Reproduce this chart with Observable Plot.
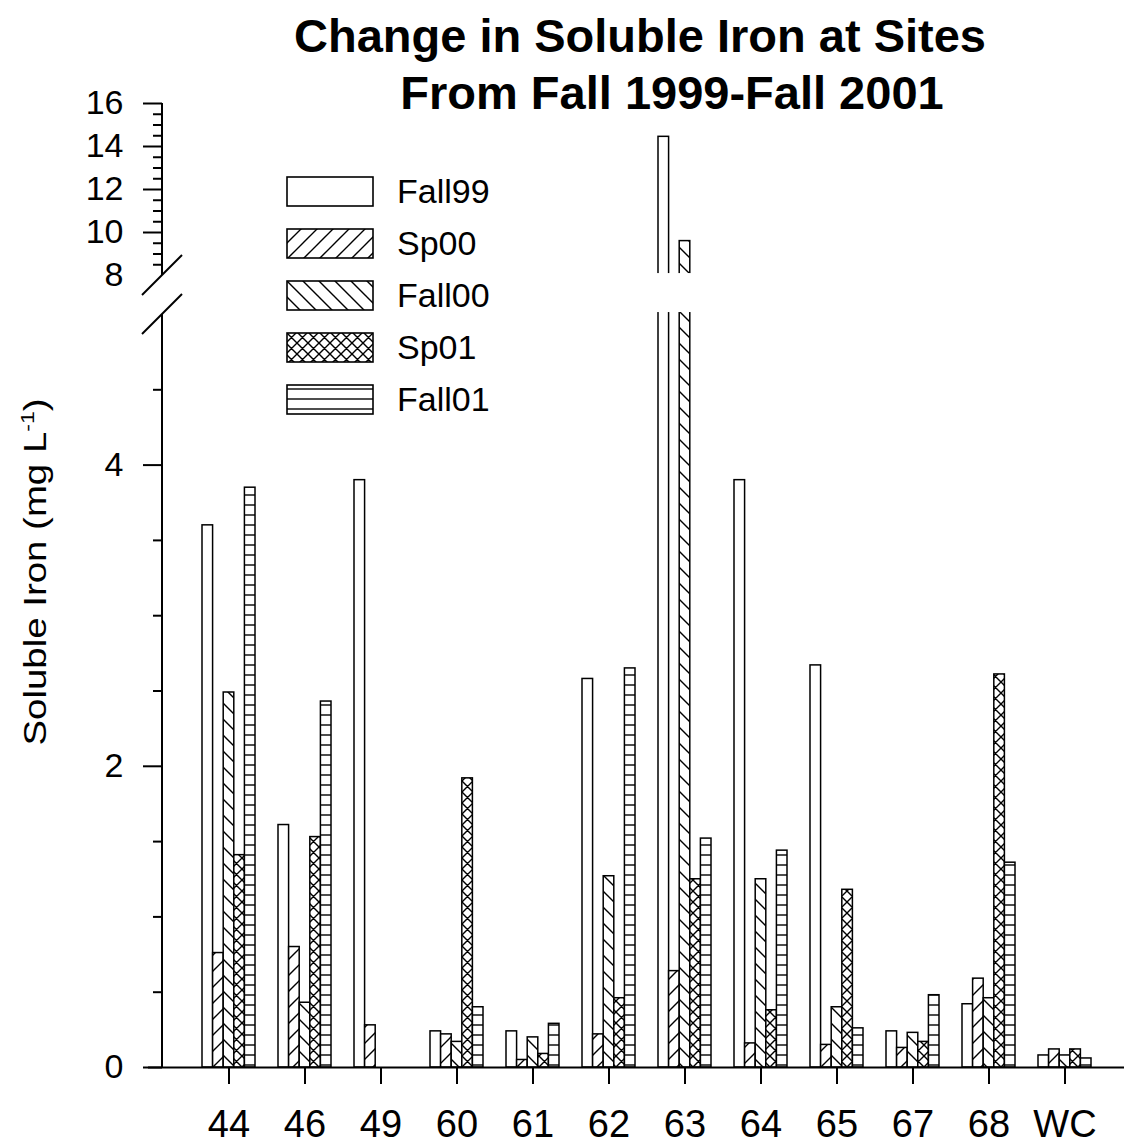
<!DOCTYPE html>
<html>
<head>
<meta charset="utf-8">
<script src="https://cdn.jsdelivr.net/npm/d3@7"></script>
<script src="https://cdn.jsdelivr.net/npm/@observablehq/plot@0.6"></script>
<style>
  body { margin: 0; background: #fff; font-family: "Liberation Sans", Arial, sans-serif; color: #000; }
  #wrap { position: relative; width: 1124px; height: 1147px; overflow: hidden; }
  .title { position: absolute; font-weight: bold; font-size: 47px; line-height: 47px; white-space: nowrap; transform: translateX(-50%); }
  #t1 { left: 640px; top: 12px; }
  #t2 { left: 672px; top: 69px; }
  #ylab { position: absolute; left: 35px; top: 572px; white-space: nowrap; font-size: 32px; line-height: 36px;
          transform: translate(-50%, -50%) rotate(-90deg) scaleX(1.2); }
  #ylab sup { font-size: 0.6em; line-height: 0; }
  #legend { position: absolute; left: 286px; top: 177px; }
  .lrow { display: flex; align-items: center; height: 29px; margin-bottom: 23px; }
  .lrow span { margin-left: 23px; font-size: 34px; line-height: 29px; }
</style>
</head>
<body>
<div id="wrap">
  <div class="title" id="t1">Change in Soluble Iron at Sites</div>
  <div class="title" id="t2">From Fall 1999-Fall 2001</div>
  <div id="ylab">Soluble Iron (mg L<sup>-1</sup>)</div>
  <div id="legend"></div>
</div>
<script>
// ---------------- data ----------------
const sites = ["44", "46", "49", "60", "61", "62", "63", "64", "65", "67", "68", "WC"];
const seriesNames = ["Fall99", "Sp00", "Fall00", "Sp01", "Fall01"];
const fall99 = [3.60, 1.61, 3.90, 0.24, 0.24, 2.58, 14.45, 3.90, 2.67, 0.24, 0.42, 0.08];
const sp00   = [0.76, 0.80, 0.28, 0.22, 0.05, 0.22, 0.64, 0.16, 0.15, 0.13, 0.59, 0.12];
const fall00 = [2.49, 0.43, null, 0.17, 0.20, 1.27, 9.60, 1.25, 0.40, 0.23, 0.46, 0.08];
const sp01   = [1.41, 1.53, null, 1.92, 0.09, 0.46, 1.25, 0.38, 1.18, 0.17, 2.61, 0.12];
const fall01 = [3.85, 2.43, null, 0.40, 0.29, 2.65, 1.52, 1.44, 0.26, 0.48, 1.36, 0.06];
const seriesValues = [fall99, sp00, fall00, sp01, fall01];

const majorTicks = [0, 2, 4, 10, 12, 14, 16];
const breakTickLabel = [8];
const minorTicks = [0.5, 1, 1.5, 2.5, 3, 3.5, 4.5,
                    8.5, 9, 9.5, 10.5, 11, 11.5, 12.5, 13, 13.5, 14.5, 15, 15.5];
// axis break: lower segment 0-5, upper segment 8-16
const lowerTop = 5, upperBottom = 8;

// ---------------- patterns ----------------
const wrap = d3.select("#wrap");
const defsSvg = wrap.insert("svg", ":first-child").attr("width", 0).attr("height", 0)
  .style("position", "absolute").style("left", 0).style("top", 0);
const defs = defsSvg.append("defs");
const patternPaths = {
  Fall99: null,
  Sp00: { w: 16, h: 16, d: "M-4,4L4,-4M0,16L16,0M12,20L20,12" },
  Fall00: { w: 16, h: 16, d: "M-4,12L4,20M0,0L16,16M12,-4L20,4" },
  Sp01: { w: 11, h: 11, d: "M0,0L11,11M0,11L11,0M-2,2L2,-2M9,13L13,9M-2,9L2,13M9,-2L13,2" },
  Fall01: { w: 10, h: 10, d: "M-1,5H11" }
};
seriesNames.forEach(s => {
  const spec = patternPaths[s] || { w: 10, h: 10, d: null };
  const p = defs.append("pattern").attr("id", "pat-" + s)
    .attr("patternUnits", "userSpaceOnUse").attr("width", spec.w).attr("height", spec.h);
  p.append("rect").attr("width", spec.w).attr("height", spec.h).attr("fill", "white");
  if (spec.d) p.append("path").attr("d", spec.d).attr("stroke", "black")
    .attr("stroke-width", 1.4).attr("fill", "none");
});

// ---------------- layout ----------------
const W = 1124, H = 1147, mL = 162, mR = 0, mT = 103, mB = 80;
const pI = 0.307, pO = 0.441, align = 0.54;
const step = (W - mL - mR) / (sites.length - pI + 2 * pO);
const bw = step * (1 - pI);
const barW = bw / seriesNames.length;

const rows = [];
seriesNames.forEach((s, i) => sites.forEach((site, j) => {
  const v = seriesValues[i][j];
  if (v != null) rows.push({ site, series: s, value: v });
}));

const barMarks = seriesNames.map((s, i) =>
  Plot.barY(rows.filter(r => r.series === s), {
    x: "site", y: "value",
    fill: `url(#pat-${s})`, stroke: "black", strokeWidth: 1.5,
    insetLeft: i * barW, insetRight: (seriesNames.length - 1 - i) * barW
  })
);

// custom mark: y-axis line segments and break slashes, placed through the y scale
function axisBreak(index, scales, values, dims) {
  const y = scales.y;
  const x0 = dims.marginLeft;
  const g = d3.create("svg:g").attr("stroke", "black").attr("stroke-width", 2).attr("fill", "none");
  g.append("line").attr("x1", x0).attr("x2", x0).attr("y1", y(0) + 1).attr("y2", y(lowerTop));
  g.append("line").attr("x1", x0).attr("x2", x0).attr("y1", y(upperBottom)).attr("y2", y(16));
  for (const v of [upperBottom, lowerTop]) {
    const cy = y(v);
    g.append("line").attr("x1", x0 - 20).attr("y1", cy + 20).attr("x2", x0 + 20).attr("y2", cy - 20);
  }
  return g.node();
}

const fmt = d => String(d);
const chart = Plot.plot({
  width: W, height: H,
  marginLeft: mL, marginRight: mR, marginTop: mT, marginBottom: mB,
  style: { fontFamily: '"Liberation Sans", Arial, sans-serif', color: "black", background: "white", overflow: "visible" },
  x: { type: "band", domain: sites, paddingInner: pI, paddingOuter: pO, align: align },
  y: { type: "linear", domain: [0, lowerTop, upperBottom, 16], range: [1067, 314, 275, 103] },
  marks: [
    ...barMarks,
    Plot.barY([0], { y1: 5.15, y2: 8.09, fill: "white", insetLeft: -4 }),
    Plot.ruleY([0], { stroke: "black", strokeWidth: 2, insetLeft: -14 }),
    Plot.axisY(majorTicks, { tickSize: 19, tickPadding: 20, fontSize: 34, strokeWidth: 2, tickFormat: fmt, label: null }),
    Plot.axisY(breakTickLabel, { tickSize: 0, tickPadding: 39, fontSize: 34, tickFormat: fmt, label: null }),
    Plot.axisY(minorTicks, { tickSize: 9, tickFormat: () => "", strokeWidth: 2, label: null }),
    Plot.axisX({ tickSize: 17, tickPadding: 26, fontSize: 38, strokeWidth: 2, label: null }),
    axisBreak
  ]
});
d3.select(chart).style("position", "absolute").style("left", "0px").style("top", "0px");
document.getElementById("wrap").insertBefore(chart, document.getElementById("t1"));

// ---------------- legend ----------------
const legend = d3.select("#legend");
seriesNames.forEach(s => {
  const row = legend.append("div").attr("class", "lrow");
  const sv = row.append("svg").attr("width", 88).attr("height", 31).style("display", "block");
  sv.append("rect").attr("x", 1).attr("y", 1).attr("width", 86).attr("height", 29)
    .attr("fill", `url(#pat-${s})`).attr("stroke", "black").attr("stroke-width", 1.6);
  row.append("span").text(s);
});
</script>
</body>
</html>
